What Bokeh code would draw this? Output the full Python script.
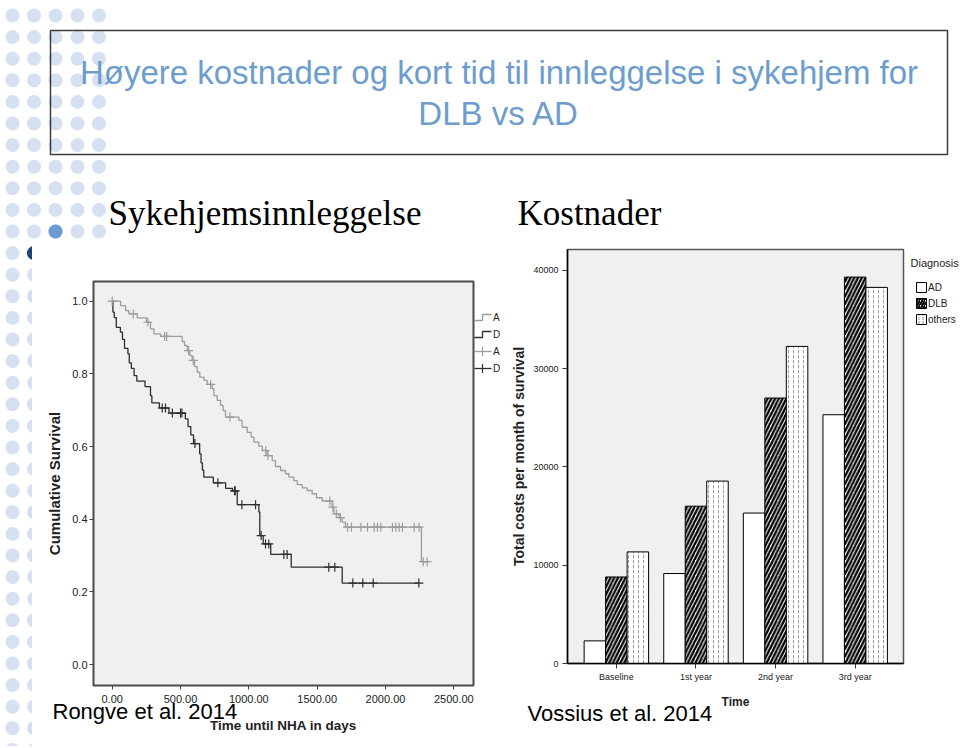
import numpy as np
from bokeh.plotting import figure
from bokeh.models import Range1d, FixedTicker, NumeralTickFormatter, GridBox
from bokeh.embed import file_html
from bokeh.resources import INLINE
from bokeh.core.properties import value

# ---------------- data ----------------
title_lines = ["Høyere kostnader og kort tid til innleggelse i sykehjem for", "DLB vs AD"]
headings = ["Sykehjemsinnleggelse", "Kostnader"]
citations = ["Rongve et al. 2014", "Vossius et al. 2014"]

# Kaplan-Meier: time until nursing home admission (days)
ad_time = [0, 61, 98, 122, 183, 251, 280, 305, 354, 512, 529, 549, 568, 585, 602, 622, 641,
           671, 695, 732, 744, 768, 793, 812, 829, 927, 951, 988, 1017, 1037, 1073, 1098,
           1134, 1171, 1195, 1232, 1268, 1293, 1329, 1354, 1390, 1427, 1463, 1495, 1537,
           1610, 1622, 1659, 1683, 1707, 2263, 2305]
ad_surv = [1.0, 0.988, 0.974, 0.965, 0.954, 0.942, 0.924, 0.910, 0.903, 0.889, 0.878, 0.864,
           0.850, 0.837, 0.820, 0.805, 0.791, 0.782, 0.771, 0.759, 0.740, 0.727, 0.713, 0.699,
           0.681, 0.672, 0.653, 0.639, 0.626, 0.612, 0.601, 0.589, 0.575, 0.561, 0.545, 0.534,
           0.525, 0.516, 0.506, 0.495, 0.486, 0.479, 0.470, 0.459, 0.450, 0.433, 0.415, 0.404,
           0.392, 0.378, 0.283, 0.283]
ad_censored = [0, 154, 261, 383, 398, 559, 593, 720, 861, 1124, 1140, 1593, 1615, 1640, 1670,
               1722, 1751, 1820, 1868, 1917, 1941, 1966, 2051, 2076, 2100, 2124, 2210, 2246,
               2276, 2305]
dlb_time = [0, 5, 15, 30, 60, 75, 90, 115, 125, 140, 160, 180, 240, 280, 290, 345, 415, 535,
            555, 575, 595, 640, 650, 660, 670, 740, 830, 880, 915, 1073, 1080, 1105, 1160,
            1310, 1683, 2244]
dlb_surv = [1.0, 0.970, 0.955, 0.928, 0.915, 0.895, 0.870, 0.855, 0.830, 0.815, 0.795, 0.780,
            0.765, 0.740, 0.720, 0.706, 0.692, 0.676, 0.655, 0.632, 0.608, 0.580, 0.555, 0.535,
            0.516, 0.500, 0.485, 0.478, 0.440, 0.420, 0.355, 0.332, 0.303, 0.268, 0.224, 0.224]
dlb_censored = [366, 390, 440, 500, 510, 605, 773, 895, 900, 949, 1049, 1090, 1122, 1146, 1256,
                1280, 1585, 1629, 1761, 1834, 1910, 2244]
km_series = ["AD", "DLB", "AD-censored", "DLB-censored"]
km_x_ticks = [0, 500, 1000, 1500, 2000, 2500]
km_y_ticks = [0.0, 0.2, 0.4, 0.6, 0.8, 1.0]
km_x_label = "Time until NHA in days"
km_y_label = "Cumulative Survival"

# Costs per month of survival
cost_categories = ["Baseline", "1st year", "2nd year", "3rd year"]
diagnoses = ["AD", "DLB", "others"]
cost_ad = [2300, 9150, 15300, 25300]
cost_dlb = [8800, 16000, 27000, 39300]
cost_others = [11350, 18550, 32250, 38250]
cost_y_ticks = [0, 10000, 20000, 30000, 40000]
cost_x_label = "Time"
cost_y_label = "Total costs per month of survival"
legend_title = "Diagnosis"

# ---------------- styles ----------------
DOT = "#d5e0f1"
DOT_MID = "#6c9bd6"
DOT_DARK = "#223f7d"
TITLE_BLUE = "#6d9dcd"
PANEL = "#f0f0f0"
SANS = "Liberation Sans"
SERIF = "Liberation Serif"
PITCH = 21.6
AD_C = "#9c9c9c"
DLB_C = "#2e2e2e"
DLB_HATCH = dict(hatch_pattern="right_diagonal_line", hatch_color="black", hatch_weight=2.3,
                 hatch_scale=7.5)
OTH_HATCH = dict(hatch_pattern="vertical_dash", hatch_color="#a0a0a0", hatch_weight=1,
                 hatch_scale=5)


def deco_fig(w, h, xr, yr, transparent=False):
    f = figure(width=w, height=h, x_range=Range1d(*xr), y_range=Range1d(*yr),
               output_backend="svg", toolbar_location=None,
               x_axis_type=None, y_axis_type=None, min_border=0, frame_align=False)
    f.outline_line_color = None
    if transparent:
        f.background_fill_color = None
        f.border_fill_color = None
        f.background_fill_alpha = 0
        f.border_fill_alpha = 0
    else:
        f.background_fill_color = "white"
        f.border_fill_color = "white"
    return f


# ---------------- top band (title + headings) ----------------
top = deco_fig(960, 245, (0, 960), (245, 0))
cols = np.array([12, 33.5, 55, 77, 98.5])
rows_top = 15 + PITCH * np.arange(0, 11)
GX, GY = np.meshgrid(cols, rows_top)
top.scatter(GX.ravel(), GY.ravel(), size=14, fill_color=DOT, line_color=None)
top.scatter([55], [15 + PITCH * 10], size=14, fill_color=DOT_MID, line_color=None)

top.quad(left=[50], right=[947], top=[30], bottom=[154], fill_color=None,
         line_color="#3c3c3c", line_width=1.5)
top.text(x=[498.5, 498.5], y=[72, 113], text=title_lines, text_align="center",
         text_baseline="middle", text_font=value(SANS), text_font_size="33px",
         text_color=TITLE_BLUE)
top.text(x=[108, 517], y=[213, 213], text=headings, text_align="left",
         text_baseline="middle", text_font=value(SERIF), text_font_size="35px",
         text_color="black")

# ---------------- left strip of dots ----------------
strip = deco_fig(32, 501, (0, 32), (746, 245))
rows_low = 15 + PITCH * np.arange(11, 35)
strip.scatter(np.repeat([12, 33.5], len(rows_low)), np.tile(rows_low, 2), size=14,
              fill_color=DOT, line_color=None)
strip.scatter([33.5], [15 + PITCH * 11], size=14, fill_color=DOT_DARK, line_color=None)

# ---------------- Kaplan-Meier chart ----------------
km = figure(width=468, height=501, x_range=Range1d(-137, 2644), y_range=Range1d(-0.0578, 1.0542),
            output_backend="svg", toolbar_location=None, frame_align=False,
            min_border_left=61, min_border_right=27, min_border_top=36, min_border_bottom=61)
km.background_fill_color = PANEL
km.border_fill_color = "white"
km.outline_line_color = "#4a4a4a"
km.outline_line_width = 2
km.grid.visible = False
km.xaxis.ticker = FixedTicker(ticks=km_x_ticks)
km.yaxis.ticker = FixedTicker(ticks=km_y_ticks)
km.xaxis.formatter = NumeralTickFormatter(format="0.00")
km.yaxis.formatter = NumeralTickFormatter(format="0.0")
for ax in (km.xaxis[0], km.yaxis[0]):
    ax.axis_line_color = None
    ax.major_tick_out = 4
    ax.major_tick_in = 0
    ax.minor_tick_out = 0
    ax.minor_tick_in = 0
    ax.major_tick_line_color = "#444444"
    ax.major_label_text_font = SANS
    ax.major_label_text_font_size = "11px"
    ax.major_label_text_color = "#222222"
    ax.axis_label_text_font = SANS
    ax.axis_label_text_font_style = "bold"
    ax.axis_label_text_color = "#222222"
km.xaxis.major_label_standoff = 5
km.yaxis.major_label_standoff = 2
km.xaxis.axis_label = km_x_label
km.yaxis.axis_label = km_y_label
km.xaxis.axis_label_text_font_size = "13.5px"
km.yaxis.axis_label_text_font_size = "15px"
km.xaxis.axis_label_standoff = 12
km.yaxis.axis_label_standoff = 6


def surv_at(times, surv, t):
    idx = np.searchsorted(np.asarray(times), np.asarray(t), side="right") - 1
    return np.asarray(surv)[idx]


km.step(ad_time, ad_surv, mode="after", line_color=AD_C, line_width=1.3)
km.step(dlb_time, dlb_surv, mode="after", line_color=DLB_C, line_width=1.3)
km.scatter(ad_censored, surv_at(ad_time, ad_surv, ad_censored), marker="cross", size=9,
           line_color=AD_C, line_width=1.2)
km.scatter(dlb_censored, surv_at(dlb_time, dlb_surv, dlb_censored), marker="cross", size=9,
           line_color=DLB_C, line_width=1.2)

# overlay on the KM region: legend (cropped at the edge like the source image) and citation
km_over = deco_fig(468, 501, (32, 500), (746, 245), transparent=True)
leg_y = np.array([317, 334, 351, 368])
leg_col = [AD_C, DLB_C, AD_C, DLB_C]
km_over.multi_line(xs=[[474, 482, 482, 491]] * 2,
                   ys=[[leg_y[0] + 3, leg_y[0] + 3, leg_y[0] - 3, leg_y[0] - 3],
                       [leg_y[1] + 3, leg_y[1] + 3, leg_y[1] - 3, leg_y[1] - 3]],
                   line_color=leg_col[:2], line_width=1.3)
km_over.segment(x0=[474, 474], x1=[491, 491], y0=leg_y[2:], y1=leg_y[2:],
                line_color=leg_col[2:], line_width=1.3)
km_over.scatter([482, 482], leg_y[2:], marker="cross", size=9, line_color=leg_col[2:],
                line_width=1.2)
km_over.text(x=[492.5] * 4, y=leg_y, text=[s[0] for s in km_series], text_align="left",
             text_baseline="middle", text_font=value(SANS), text_font_size="10px",
             text_color="#222222")
km_over.text(x=[52], y=[711], text=[citations[0]], text_align="left",
             text_baseline="middle", text_font=value(SANS), text_font_size="22px",
             text_color="black")

# ---------------- cost bar chart ----------------
bar = figure(width=460, height=501, x_range=Range1d(0.386, 4.607), y_range=Range1d(0, 42105),
             output_backend="svg", toolbar_location=None, frame_align=False,
             min_border_left=67, min_border_right=57, min_border_top=4, min_border_bottom=83)
bar.background_fill_color = PANEL
bar.border_fill_color = "white"
bar.outline_line_color = "#555555"
bar.outline_line_width = 1.5
bar.grid.visible = False
xpos = np.arange(1, len(cost_categories) + 1)
bar.xaxis.ticker = FixedTicker(ticks=list(xpos))
bar.xaxis.major_label_overrides = {int(i): c for i, c in zip(xpos, cost_categories)}
bar.yaxis.ticker = FixedTicker(ticks=cost_y_ticks)
bar.yaxis.formatter = NumeralTickFormatter(format="0")
for ax in (bar.xaxis[0], bar.yaxis[0]):
    ax.axis_line_color = "black"
    ax.axis_line_width = 1.5
    ax.major_tick_in = 0
    ax.minor_tick_out = 0
    ax.minor_tick_in = 0
    ax.major_tick_line_color = "#333333"
    ax.major_label_text_font = SANS
    ax.major_label_text_font_size = "9px"
    ax.major_label_text_color = "#222222"
    ax.axis_label_text_font = SANS
    ax.axis_label_text_font_style = "bold"
    ax.axis_label_text_color = "#222222"
bar.xaxis.major_tick_out = 5
bar.yaxis.major_tick_out = 5
bar.xaxis.major_label_standoff = 3
bar.yaxis.major_label_standoff = 4
bar.xaxis.axis_label = cost_x_label
bar.yaxis.axis_label = cost_y_label
bar.xaxis.axis_label_text_font_size = "12px"
bar.yaxis.axis_label_text_font_size = "14px"
bar.xaxis.axis_label_standoff = 10
bar.yaxis.axis_label_standoff = 3

BW = 0.27
bar.vbar(x=xpos - BW, top=cost_ad, width=BW, fill_color="white", line_color="black",
         line_width=1)
bar.vbar(x=xpos, top=cost_dlb, width=BW, fill_color="white", line_color="black",
         line_width=1, **DLB_HATCH)
bar.vbar(x=xpos + BW, top=cost_others, width=BW, fill_color="white", line_color="black",
         line_width=1, **OTH_HATCH)

# overlay on the bar region: legend and citation
bar_over = deco_fig(460, 501, (500, 960), (746, 245), transparent=True)
bl_y = [287, 303, 319]
bar_over.text(x=[910], y=[262], text=[legend_title], text_align="left", text_baseline="middle",
              text_font=value(SANS), text_font_size="11px", text_color="#222222")
bar_over.rect(x=[921], y=[bl_y[0]], width=10, height=10, fill_color="white",
              line_color="black", line_width=1)
bar_over.rect(x=[921], y=[bl_y[1]], width=10, height=10, fill_color="white",
              line_color="black", line_width=1, hatch_pattern="right_diagonal_line",
              hatch_color="black", hatch_weight=2, hatch_scale=5)
bar_over.rect(x=[921], y=[bl_y[2]], width=10, height=10, fill_color="white",
              line_color="black", line_width=1, hatch_pattern="vertical_dash",
              hatch_color="#9a9a9a", hatch_weight=1, hatch_scale=4)
bar_over.text(x=[927.5] * 3, y=bl_y, text=diagnoses, text_align="left", text_baseline="middle",
              text_font=value(SANS), text_font_size="10px", text_color="#222222")
bar_over.text(x=[527], y=[713], text=[citations[1]], text_align="left",
              text_baseline="middle", text_font=value(SANS), text_font_size="22px",
              text_color="black")

grid = GridBox(children=[(top, 0, 0, 1, 3), (strip, 1, 0), (km, 1, 1), (bar, 1, 2),
                         (km_over, 1, 1), (bar_over, 1, 2)], spacing=0)
open("out.html", "w").write(file_html(grid, INLINE))
